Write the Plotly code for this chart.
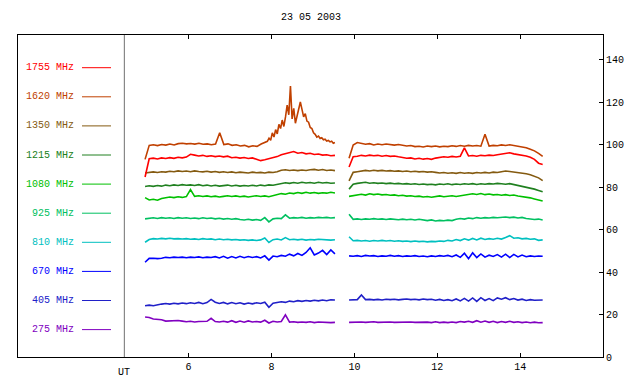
import numpy as np
import plotly.graph_objects as go

# ---------------- data ----------------
title = "23 05 2003"
freq_labels = ["1755 MHz", "1620 MHz", "1350 MHz", "1215 MHz", "1080 MHz",
               "925 MHz", "810 MHz", "670 MHz", "405 MHz", "275 MHz"]
colors = ["#ff0000", "#c04000", "#845a10", "#208020", "#00c000",
          "#00c060", "#00c0c0", "#0000ff", "#2020c8", "#8000c0"]

# time grids (UT hours)
t_seg1 = np.linspace(4.95, 9.53, 47)
t_seg2 = np.linspace(9.87, 14.54, 48)
t_seg1_1620 = np.concatenate([np.linspace(4.95, 7.85, 30), np.linspace(7.90, 9.53, 42)])

f1755_a = [84.7, 93.3, 93.6, 93.2, 93.7, 93.4, 93.8, 93.5, 94.0, 93.7, 94.1, 95.4, 95.0, 94.6, 94.9, 94.4,
           94.7, 94.3, 94.6, 94.2, 94.5, 93.8, 94.0, 93.6, 93.9, 93.4, 93.7, 93.2, 92.4, 92.8, 93.2, 93.6,
           94.3, 95.2, 95.6, 96.3, 96.7, 95.9, 96.2, 95.6, 95.9, 95.3, 95.5, 95.0, 95.2, 94.7, 94.9]
f1755_b = [89.4, 94.2, 94.5, 94.9, 94.6, 95.0, 94.7, 94.9, 94.5, 94.8, 94.4, 94.6, 94.2, 93.9, 93.5, 93.7,
           93.2, 93.5, 93.1, 93.4, 93.0, 93.6, 93.9, 94.2, 94.0, 94.4, 94.1, 94.5, 98.4, 94.6, 94.8, 94.5,
           94.9, 94.7, 95.0, 94.8, 95.2, 95.5, 95.8, 96.1, 95.6, 95.3, 94.9, 94.6, 94.0, 93.0, 91.2, 90.6]

f1620_a = [93.0, 99.6, 99.9, 99.5, 100.0, 99.7, 100.2, 99.8, 100.4, 100.6, 100.3, 100.5, 100.2, 100.6, 100.1,
           100.3, 99.9, 100.2, 105.5, 100.0, 100.3, 99.6, 99.9, 99.3, 99.6, 98.9, 99.4, 99.1, 100.2, 101.0,
           101.5, 103.0, 102.0, 105.5, 103.5, 107.0, 105.0, 109.5, 107.5, 111.5, 108.5, 113.0, 118.5, 114.0,
           127.5, 112.0, 117.0, 110.0, 113.5, 115.5, 120.0, 116.5, 113.0, 114.5, 111.0, 110.5, 108.0, 107.5,
           105.5, 104.8, 103.5, 104.0, 102.8, 103.2, 102.2, 102.5, 101.6, 101.9, 101.2, 101.5, 100.6, 100.9]
f1620_b = [93.5, 99.8, 100.9, 100.5, 100.1, 100.4, 99.8, 100.2, 99.9, 100.2, 100.0, 99.7, 100.0, 99.5, 99.3,
           99.5, 99.0, 99.2, 98.8, 99.3, 99.0, 99.3, 98.9, 99.2, 99.0, 99.4, 99.1, 99.5, 99.2, 99.6, 99.3,
           99.5, 99.2, 104.8, 99.3, 99.6, 99.4, 99.8, 99.5, 99.9, 99.6, 99.4, 99.0, 98.5, 97.8, 97.0, 95.8, 94.4]

f1350_a = [86.6, 86.9, 87.1, 86.8, 87.2, 87.0, 87.4, 87.2, 87.6, 87.3, 87.5, 87.2, 87.6, 87.3, 87.1, 87.4,
           87.0, 87.3, 86.9, 87.2, 86.8, 87.1, 86.7, 87.0, 86.8, 86.6, 87.0, 86.7, 86.9, 86.6, 87.0, 86.8,
           87.2, 87.9, 88.1, 87.8, 88.0, 87.7, 88.0, 87.8, 88.1, 88.3, 87.9, 88.2, 87.8, 88.0, 87.7]
f1350_b = [82.9, 86.9, 87.2, 87.6, 87.8, 87.5, 87.9, 87.6, 87.8, 87.5, 87.7, 87.4, 87.6, 87.3, 87.5, 87.2,
           87.4, 87.1, 87.3, 87.0, 87.2, 86.9, 86.6, 86.8, 86.5, 86.7, 86.4, 86.8, 86.5, 86.7, 86.4, 86.8,
           86.6, 86.9, 86.6, 87.0, 86.8, 87.2, 87.5, 87.3, 87.1, 86.8, 86.5, 86.2, 85.8, 85.2, 84.3, 83.0]

f1215_a = [80.2, 80.6, 80.3, 80.7, 80.4, 80.9, 80.6, 81.0, 80.7, 81.1, 80.8, 81.0, 80.7, 81.1, 80.6, 80.9,
           80.5, 80.8, 80.4, 80.7, 80.9, 80.5, 80.8, 80.4, 80.7, 80.5, 80.8, 80.5, 80.9, 80.6, 81.0, 80.8,
           81.2, 81.6, 82.0, 81.7, 82.1, 81.8, 82.2, 81.9, 82.1, 81.8, 82.2, 81.9, 82.1, 81.8, 81.9]
f1215_b = [79.0, 81.3, 81.7, 81.9, 82.2, 81.8, 82.0, 81.7, 81.9, 81.6, 81.8, 81.5, 81.7, 81.4, 81.6, 81.3,
           81.5, 81.2, 81.4, 81.1, 81.3, 81.0, 81.4, 81.2, 81.5, 81.1, 81.4, 81.2, 81.5, 81.3, 81.6, 81.2,
           81.5, 81.3, 81.6, 81.4, 81.7, 81.5, 81.3, 81.6, 81.2, 80.9, 80.5, 80.1, 79.6, 79.0, 78.4, 77.8]

f1080_a = [75.0, 73.9, 74.2, 73.8, 74.6, 74.9, 75.3, 75.0, 75.4, 75.1, 75.5, 78.8, 75.6, 75.9, 75.5, 75.8,
           75.4, 75.7, 75.3, 75.6, 75.9, 75.5, 75.8, 75.4, 75.7, 75.3, 75.6, 75.9, 75.5, 75.8, 75.4, 75.9,
           76.3, 76.9, 76.6, 77.2, 76.9, 77.4, 77.0, 77.5, 77.1, 77.4, 77.0, 77.3, 77.1, 77.5, 77.2]
f1080_b = [75.6, 76.0, 76.3, 76.6, 76.2, 76.8, 76.4, 76.7, 76.3, 76.5, 76.1, 76.3, 75.9, 76.1, 75.7, 75.9,
           75.5, 75.7, 75.3, 75.5, 75.2, 75.5, 75.8, 75.4, 75.7, 75.9, 75.5, 75.8, 76.1, 76.4, 76.8, 76.5,
           76.9, 76.4, 76.7, 76.3, 76.5, 76.1, 76.4, 76.0, 76.2, 75.8, 75.6, 75.2, 74.9, 74.4, 73.9, 73.4]

f925_a = [65.0, 65.3, 65.5, 65.2, 65.6, 65.3, 65.5, 65.2, 65.6, 65.3, 65.5, 65.2, 65.4, 65.1, 65.5, 65.2,
          65.4, 65.0, 65.3, 64.9, 65.2, 64.8, 65.1, 64.7, 64.5, 64.8, 64.4, 64.7, 64.3, 65.6, 63.6, 65.0,
          65.3, 65.1, 66.9, 65.3, 65.6, 65.4, 65.7, 65.3, 65.6, 65.4, 65.7, 65.5, 65.7, 65.4, 65.6]
f925_b = [67.2, 64.8, 65.0, 64.7, 65.0, 64.8, 65.1, 64.8, 65.0, 64.7, 65.0, 64.8, 64.6, 64.9, 64.6, 64.8,
          64.5, 64.8, 64.4, 64.2, 64.5, 64.0, 64.3, 64.1, 64.4, 64.2, 64.8, 65.2, 64.9, 65.4, 65.1, 65.6,
          65.3, 65.6, 65.4, 65.7, 65.5, 65.8, 65.9, 65.6, 65.8, 65.4, 65.7, 65.2, 65.0, 64.7, 64.9, 64.5]

f810_a = [54.0, 55.3, 55.7, 55.5, 55.8, 55.6, 55.9, 55.6, 55.7, 55.5, 55.7, 55.4, 55.6, 55.3, 55.7, 55.4,
          55.6, 55.2, 55.5, 55.2, 55.4, 55.1, 55.3, 55.0, 55.2, 54.9, 55.1, 54.8, 55.1, 56.0, 53.9, 55.2,
          55.5, 55.1, 56.2, 55.2, 55.4, 55.1, 55.4, 55.0, 55.3, 55.1, 55.4, 55.2, 55.3, 55.0, 55.2]
f810_b = [56.6, 54.7, 54.9, 54.6, 54.8, 54.5, 54.8, 54.6, 54.9, 54.6, 54.8, 54.5, 54.7, 54.4, 54.6, 54.3,
          54.6, 54.3, 54.5, 54.2, 54.4, 54.3, 54.6, 54.4, 54.9, 54.6, 55.3, 54.8, 55.6, 55.0, 55.8, 55.1,
          55.9, 55.3, 55.7, 55.4, 55.9, 55.5, 56.2, 57.1, 55.9, 56.1, 55.6, 55.8, 55.4, 55.6, 54.9, 55.1]

f670_a = [44.6, 46.4, 46.5, 46.3, 46.5, 46.9, 46.7, 47.0, 46.8, 47.0, 46.7, 47.0, 46.8, 47.1, 46.7, 47.0,
          46.8, 47.2, 46.6, 47.4, 46.5, 47.3, 46.6, 47.4, 46.7, 47.3, 46.8, 47.2, 46.6, 47.6, 45.6, 47.5,
          47.2, 47.8, 47.4, 48.4, 47.6, 48.7, 47.8, 49.2, 51.4, 48.0, 48.9, 50.2, 48.2, 50.4, 48.5]
f670_b = [47.6, 47.4, 47.7, 47.3, 47.8, 47.5, 47.7, 47.3, 47.6, 47.4, 47.8, 47.4, 47.7, 47.3, 47.6, 47.4,
          47.7, 47.3, 47.5, 47.2, 47.6, 47.3, 47.7, 47.4, 47.8, 47.2, 48.0, 46.9, 48.8, 46.3, 49.0, 46.8,
          48.5, 47.0, 47.9, 47.3, 48.2, 47.0, 48.4, 46.8, 48.3, 47.1, 48.0, 47.2, 47.6, 47.3, 47.5, 47.4]

f405_a = [24.1, 24.4, 24.1, 24.6, 24.9, 25.2, 24.9, 25.3, 25.0, 25.4, 25.1, 25.5, 25.2, 25.7, 25.1, 25.6,
          27.1, 25.8, 25.2, 25.7, 25.0, 25.6, 25.1, 25.5, 24.9, 25.4, 25.0, 25.5, 25.2, 25.8, 23.4, 25.3,
          25.7, 26.0, 25.7, 26.3, 26.0, 26.5, 26.2, 26.6, 26.3, 26.7, 26.4, 26.8, 26.5, 26.9, 26.8]
f405_b = [26.8, 26.9, 27.0, 29.2, 27.0, 27.1, 26.9, 27.1, 26.8, 27.2, 27.0, 27.2, 26.9, 27.1, 27.3, 27.0,
          27.2, 26.9, 27.3, 27.0, 27.2, 26.7, 27.1, 26.6, 27.0, 26.5, 27.3, 26.4, 27.6, 26.3, 27.8, 26.2,
          27.9, 26.6, 27.5, 26.5, 27.8, 27.2, 27.9, 27.0, 27.5, 26.8, 27.2, 26.6, 27.0, 26.7, 26.9, 26.8]

f275_a = [18.8, 18.6, 17.9, 17.8, 17.5, 16.9, 17.1, 17.0, 17.2, 16.9, 16.6, 16.8, 16.5, 16.7, 16.6, 16.8,
          18.2, 16.7, 16.5, 16.8, 16.4, 17.1, 16.3, 16.9, 16.4, 17.0, 16.5, 16.7, 16.4, 17.3, 16.0, 16.8,
          16.5, 16.7, 19.8, 16.4, 16.6, 16.3, 16.5, 16.3, 16.6, 16.2, 16.5, 16.3, 16.4, 16.2, 16.3]
f275_b = [16.3, 16.4, 16.3, 16.5, 16.3, 16.4, 16.6, 16.3, 16.4, 16.3, 16.5, 16.3, 16.4, 16.3, 16.4, 16.5,
          16.3, 16.4, 16.3, 16.4, 16.2, 16.6, 16.2, 16.4, 16.2, 16.5, 16.2, 16.7, 16.4, 16.8, 16.3, 17.1,
          16.4, 16.9, 16.3, 16.8, 16.2, 16.7, 16.3, 16.8, 16.3, 16.6, 16.2, 16.5, 16.1, 16.4, 16.1, 16.2]

series = [
    (f1755_a, f1755_b, t_seg1),
    (f1620_a, f1620_b, t_seg1_1620),
    (f1350_a, f1350_b, t_seg1),
    (f1215_a, f1215_b, t_seg1),
    (f1080_a, f1080_b, t_seg1),
    (f925_a, f925_b, t_seg1),
    (f810_a, f810_b, t_seg1),
    (f670_a, f670_b, t_seg1),
    (f405_a, f405_b, t_seg1),
    (f275_a, f275_b, t_seg1),
]

x_ticks = [6, 8, 10, 12, 14]
y_ticks = [0, 20, 40, 60, 80, 100, 120, 140]
ut_time = 4.45

# ---------------- figure ----------------
FONT = "Liberation Mono"
W, H = 640, 384
ML, MR, MT, MB = 18, 37, 35, 27
pw, ph = W - ML - MR, H - MT - MB

def px_to_paper_x(px):
    return (px - ML) / pw

def px_to_paper_y(py):
    return (H - MB - py) / ph

fig = go.Figure()
for (seg_a, seg_b, ta), col in reversed(list(zip(series, colors))):
    xs = list(ta) + [None] + list(t_seg2)
    ys = list(seg_a) + [None] + list(seg_b)
    fig.add_trace(go.Scatter(x=xs, y=ys, mode="lines", connectgaps=False,
                             line=dict(color=col, width=1.6), showlegend=False,
                             hoverinfo="skip"))

shapes = [dict(type="line", xref="x", yref="paper", x0=ut_time, x1=ut_time, y0=0, y1=1,
               line=dict(color="#707070", width=1))]
annotations = []
for i, (lab, col) in enumerate(zip(freq_labels, colors)):
    py = 67.7 + 29.1 * i
    yp = px_to_paper_y(py)
    annotations.append(dict(text=lab, xref="paper", yref="paper", x=px_to_paper_x(76), y=yp,
                            xanchor="right", yanchor="middle", showarrow=False,
                            font=dict(family=FONT, size=10, color=col)))
    shapes.append(dict(type="line", xref="paper", yref="paper",
                       x0=px_to_paper_x(82), x1=px_to_paper_x(111), y0=yp, y1=yp,
                       line=dict(color=col, width=1)))

annotations.append(dict(text=title, xref="paper", yref="paper", x=0.5, y=px_to_paper_y(18),
                        xanchor="center", yanchor="middle", showarrow=False,
                        font=dict(family=FONT, size=10, color="black")))
annotations.append(dict(text="UT", xref="x", yref="paper", x=ut_time, y=px_to_paper_y(372),
                        xanchor="center", yanchor="middle", showarrow=False,
                        font=dict(family=FONT, size=10, color="black")))

x0 = 6 - (188.6 - ML) / 41.46
fig.update_layout(
    width=W, height=H,
    margin=dict(l=ML, r=MR, t=MT, b=MB),
    paper_bgcolor="white", plot_bgcolor="white",
    font=dict(family=FONT, size=10, color="black"),
    xaxis=dict(range=[x0, x0 + pw / 41.46], tickvals=x_ticks, ticktext=[str(v) for v in x_ticks],
               ticks="inside", ticklen=4, tickcolor="black", showline=True, linecolor="black",
               linewidth=1, mirror="ticks", showgrid=False, zeroline=False,
               tickfont=dict(family=FONT, size=10)),
    yaxis=dict(range=[0, ph / 2.125], side="right", tickvals=y_ticks,
               ticks="inside", ticklen=4, tickcolor="black", showline=True, linecolor="black",
               linewidth=1, mirror=True, showgrid=False, zeroline=False,
               tickfont=dict(family=FONT, size=10)),
    shapes=shapes, annotations=annotations,
)

fig.write_html("out.html", config={"displayModeBar": False, "staticPlot": True},
               post_script="document.body.style.margin='0';document.body.style.padding='0';")
